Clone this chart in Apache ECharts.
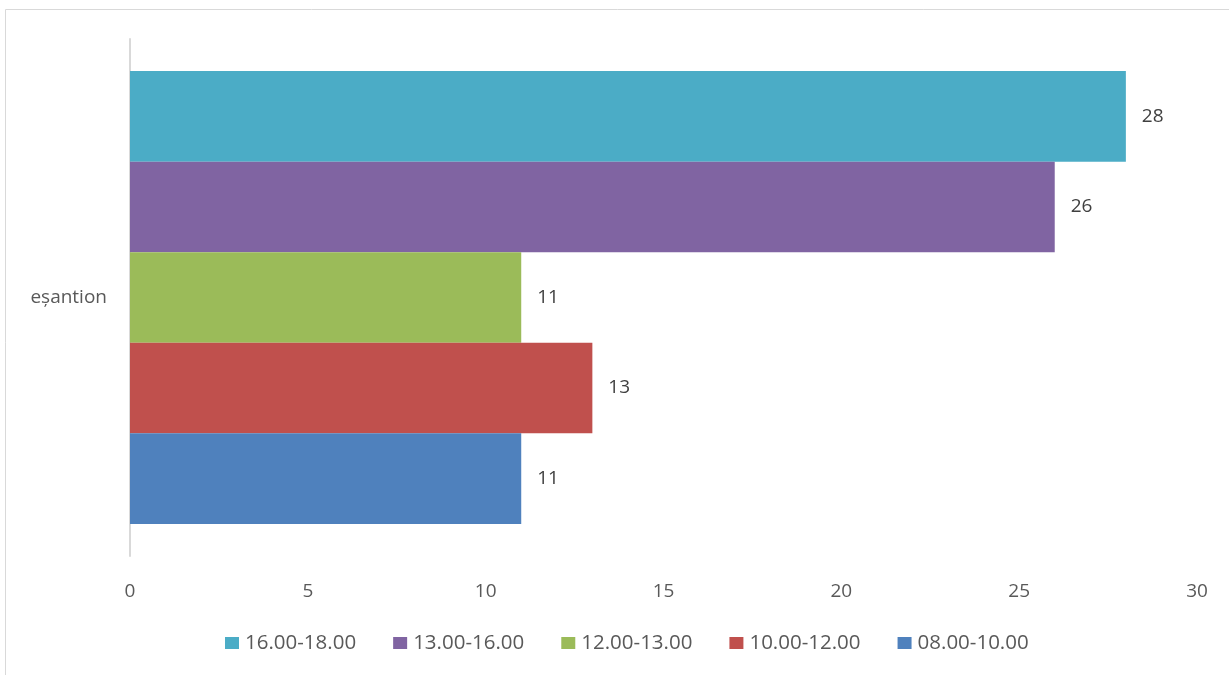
<!DOCTYPE html>
<html>
<head>
<meta charset="utf-8">
<script src="https://cdn.jsdelivr.net/npm/echarts@6/dist/echarts.min.js"></script>
<style>html,body{margin:0;padding:0;background:#fff}#c{width:1229px;height:675px}</style>
</head>
<body>
<div id="c"></div>
<script>
const categories = ['eșantion'];
const seriesNames = ['16.00-18.00', '13.00-16.00', '12.00-13.00', '10.00-12.00', '08.00-10.00'];
const seriesValues = [28, 26, 11, 13, 11];
const seriesColors = ['#4BACC6', '#8064A2', '#9BBB59', '#C0504D', '#4F81BD'];
const xTicks = [0, 5, 10, 15, 20, 25, 30];

const chart = echarts.init(document.getElementById('c'), null, {renderer: 'canvas'});
const font = '"Open Sans", "Noto Sans", sans-serif';
const series = seriesNames.map((name, i) => ({
  name: name,
  type: 'bar',
  data: [seriesValues[i]],
  itemStyle: {color: seriesColors[i]},
  barGap: '0%',
  barCategoryGap: '12.4%',
  label: {show: true, position: 'right', distance: 16, color: '#404040', fontSize: 19, fontFamily: font},
  emphasis: {disabled: true}
}));
chart.setOption({
  animation: false,
  graphic: [{
    type: 'rect', shape: {x: 5.5, y: 9.5, width: 1400, height: 800},
    style: {fill: 'none', stroke: '#d9d9d9', lineWidth: 1}, silent: true, z: -1
  }],
  grid: {left: 130, right: 32, top: 39, bottom: 119, containLabel: false},
  xAxis: {
    type: 'value', min: xTicks[0], max: xTicks[xTicks.length - 1], interval: 5,
    axisLine: {show: false}, axisTick: {show: false}, splitLine: {show: false},
    axisLabel: {color: '#595959', fontSize: 19, fontFamily: font, margin: 26}
  },
  yAxis: {
    type: 'category', data: categories,
    axisLine: {show: true, lineStyle: {color: '#d9d9d9', width: 2}},
    axisTick: {show: false},
    axisLabel: {color: '#595959', fontSize: 19, fontFamily: font, margin: 23}
  },
  legend: {
    data: seriesNames, top: 626, left: 220, padding: 5,
    itemWidth: 14, itemHeight: 12, itemGap: 37, icon: 'rect',
    textStyle: {color: '#595959', fontSize: 20.5, fontFamily: font, lineHeight: 24, padding: [0, 0, 0, 1]}
  },
  series: series
});
</script>
</body>
</html>
